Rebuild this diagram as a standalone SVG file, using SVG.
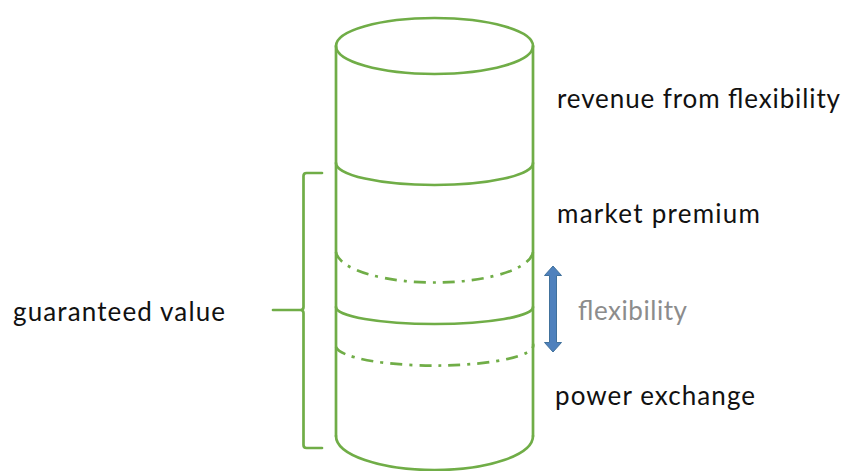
<svg xmlns="http://www.w3.org/2000/svg" width="843" height="471" viewBox="0 0 843 471">
  <style>
    .g { fill: none; stroke: #70ad47; stroke-width: 2.7; stroke-linecap: round; stroke-linejoin: round; }
    .dd { stroke-dasharray: 12 7 3 7; stroke-linecap: butt; }
    .lbl { font-family: Lato, "Open Sans", sans-serif; font-size: 26px; fill: #111111; }
    .flex { fill: #8c8c8c; }
  </style>
  <rect width="843" height="471" fill="#ffffff"/>
  <g id="cylinder">
    <ellipse class="g" cx="434.5" cy="46" rx="98.5" ry="28"/>
    <path class="g" d="M336,46 L336,436 M533,46 L533,436"/>
    <path class="g" d="M336,163 A98.5,22 0 0 0 533,163"/>
    <path class="g dd" d="M336,252 A98.5,32 0 0 0 533,249"/>
    <path class="g" d="M336,307 A98.5,17 0 0 0 533,307"/>
    <path class="g dd" d="M336,347 A98.5,20 0 0 0 533,344"/>
    <path class="g" d="M336,436 A98.5,34 0 0 0 533,436"/>
  </g>
  <g id="bracket">
    <path class="g" d="M322,173 L306.5,173 Q303.5,173 303.5,176 L303.5,307 Q303.5,310 300.5,310 L273,310 M300.5,310 Q303.5,310 303.5,313 L303.5,445 Q303.5,448 306.5,448 L322,448"/>
  </g>
  <g id="connectors">
    <polygon id="flex-arrow" points="553,266 561.5,275.5 556.5,275.5 556.5,342.5 561.5,342.5 553,352 544.5,342.5 549.5,342.5 549.5,275.5 544.5,275.5" fill="#4f81bd" stroke="#41719c" stroke-width="1"/>
  </g>
  <g id="labels">
    <text id="lbl-revenue" class="lbl" x="557" y="108" textLength="283" lengthAdjust="spacing">revenue from flexibility</text>
    <text id="lbl-market" class="lbl" x="557" y="223" textLength="203" lengthAdjust="spacing">market premium</text>
    <text id="lbl-guaranteed" class="lbl" x="13" y="321" textLength="212" lengthAdjust="spacing">guaranteed value</text>
    <text id="lbl-flexibility" class="lbl flex" x="578" y="320" textLength="109" lengthAdjust="spacing">flexibility</text>
    <text id="lbl-power" class="lbl" x="555" y="405" textLength="200" lengthAdjust="spacing">power exchange</text>
  </g>
</svg>
